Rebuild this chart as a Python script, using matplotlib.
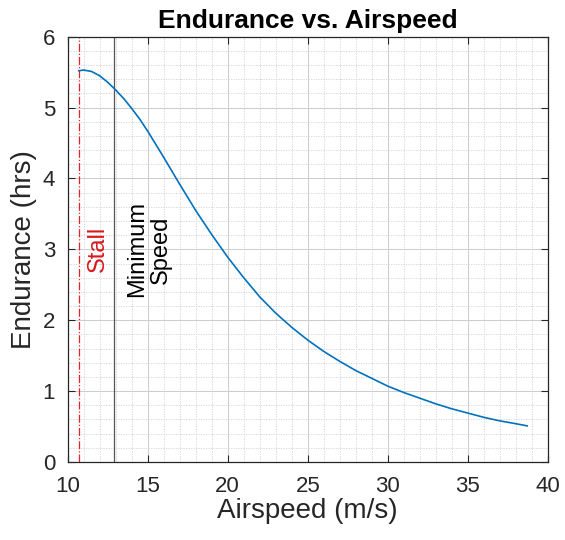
import matplotlib
matplotlib.use("Agg")
import matplotlib.pyplot as plt
from matplotlib.ticker import MultipleLocator

plt.rcParams['font.family'] = ['Liberation Sans', 'DejaVu Sans']

airspeed = [10.7, 11.0, 11.5, 12.0, 12.5, 13.0, 13.5, 14.0, 14.5, 15.0, 16.0, 17.0,
            18.0, 19.0, 20.0, 21.0, 22.0, 23.0, 24.0, 25.0, 26.0, 27.0, 28.0, 29.0,
            30.0, 31.0, 32.0, 33.0, 34.0, 35.0, 36.0, 37.0, 38.0, 38.7]
endurance = [5.52, 5.53, 5.51, 5.45, 5.36, 5.25, 5.13, 4.99, 4.84, 4.67, 4.30, 3.92,
             3.55, 3.21, 2.89, 2.60, 2.33, 2.10, 1.90, 1.72, 1.56, 1.42, 1.29, 1.18,
             1.07, 0.98, 0.90, 0.82, 0.75, 0.69, 0.63, 0.58, 0.54, 0.51]
stall_speed = 10.7
min_speed = 12.9

xlim = (10, 40)
ylim = (0, 6)
xticks = [10, 15, 20, 25, 30, 35, 40]
yticks = [0, 1, 2, 3, 4, 5, 6]

dark = '#262626'

fig = plt.figure(figsize=(5.65, 5.40), dpi=100)
ax = fig.add_axes([0.1195, 0.1444, 0.8505, 0.7876])

ax.plot(airspeed, endurance, color='#0072BD', lw=1.2, zorder=3)
ax.axvline(stall_speed, color='#E8202A', lw=0.9, ls='-.', zorder=2)
ax.axvline(min_speed, color='#555555', lw=0.9, ls='-', zorder=2)

ax.text(11.9, 3.0, 'Stall', rotation=90, color='#D7191C', fontsize=17,
        ha='center', va='center')
ax.text(15.1, 3.0, 'Minimum\nSpeed', rotation=90, color='black', fontsize=17,
        ha='center', va='center', multialignment='center', linespacing=1.1)

ax.set_xlim(*xlim)
ax.set_ylim(*ylim)
ax.set_xticks(xticks)
ax.set_yticks(yticks)
ax.xaxis.set_minor_locator(MultipleLocator(1))
ax.yaxis.set_minor_locator(MultipleLocator(0.2))

ax.grid(which='major', color='#cccccc', lw=0.7, ls='-')
ax.grid(which='minor', color='#d2d2d2', lw=0.6, ls=(0, (1.5, 1.5)))
ax.set_axisbelow(True)

ax.tick_params(which='both', direction='in', top=True, right=True, colors=dark,
               labelsize=16)
ax.tick_params(which='major', length=5, width=0.8)
ax.tick_params(axis='x', which='major', pad=10)
ax.tick_params(axis='y', which='major', pad=9)
ax.tick_params(which='minor', length=0)
for s in ax.spines.values():
    s.set_color(dark)
    s.set_linewidth(0.9)

ax.set_xlabel('Airspeed (m/s)', fontsize=20, color=dark, labelpad=1)
ax.set_ylabel('Endurance (hrs)', fontsize=20, color=dark, labelpad=4)
ax.set_title('Endurance vs. Airspeed', fontsize=19, fontweight='bold', color='black', pad=6)

fig.savefig('out.png', dpi=100)
